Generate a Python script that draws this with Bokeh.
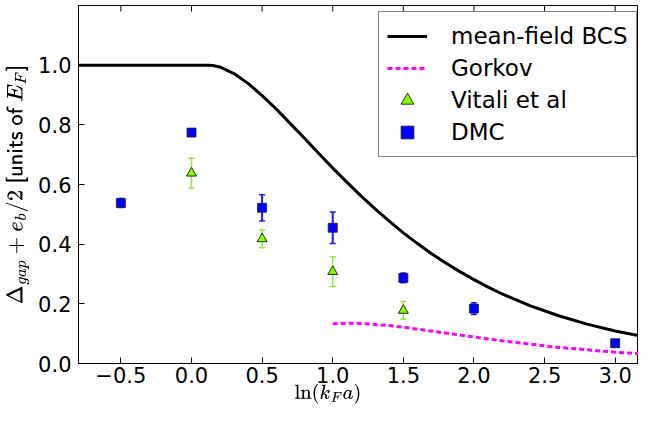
import math
from bokeh.plotting import figure
from bokeh.models import (ColumnDataSource, Whisker, TeeHead, FixedTicker,
                          Legend, LegendItem, TeX, Range1d, PrintfTickFormatter)
from bokeh.embed import file_html
from bokeh.resources import INLINE

# mean-field BCS curve
bcs_x = [-0.8, -0.5, 0.0, 0.12, 0.15, 0.2, 0.3, 0.4, 0.5, 0.6, 0.7, 0.8, 0.9, 1.0,
         1.1, 1.2, 1.3, 1.4, 1.5, 1.6, 1.7, 1.8, 1.9, 2.0, 2.1, 2.2, 2.4, 2.6, 2.8, 3.0, 3.3]
bcs_y = [1.0, 1.0, 1.0, 1.0, 0.999, 0.994, 0.972, 0.939, 0.898, 0.853, 0.804, 0.755, 0.705, 0.655,
         0.608, 0.562, 0.518, 0.477, 0.438, 0.402, 0.368, 0.337, 0.308, 0.281, 0.256, 0.233,
         0.193, 0.160, 0.132, 0.109, 0.081]

# Gorkov curve
gorkov_x = [1.0, 1.1, 1.15, 1.2, 1.3, 1.4, 1.5, 1.6, 1.8, 2.0, 2.2, 2.4, 2.5, 2.6, 2.8, 3.0, 3.1, 3.3]
gorkov_y = [0.133, 0.135, 0.135, 0.134, 0.131, 0.127, 0.122, 0.115, 0.102, 0.089, 0.076, 0.065,
            0.059, 0.054, 0.046, 0.038, 0.035, 0.029]

# Vitali et al
vitali_x = [0.0, 0.5, 1.0, 1.5]
vitali_y = [0.638, 0.418, 0.308, 0.178]
vitali_err = [0.05, 0.03, 0.05, 0.03]

# DMC
dmc_x = [-0.5, 0.0, 0.5, 1.0, 1.5, 2.0, 3.0]
dmc_y = [0.538, 0.774, 0.522, 0.455, 0.287, 0.184, 0.068]
dmc_err = [0.015, 0.01, 0.044, 0.053, 0.016, 0.02, 0.012]

x_ticks = [-0.5, 0.0, 0.5, 1.0, 1.5, 2.0, 2.5, 3.0]
y_ticks = [0.0, 0.2, 0.4, 0.6, 0.8, 1.0]
X_MIN, X_MAX = -0.8, 3.165
Y_MIN, Y_MAX = 0.0, 1.2

FONT = "DejaVu Sans"

p = figure(width=638, height=406, output_backend="svg", toolbar_location=None,
           x_range=Range1d(X_MIN, X_MAX), y_range=Range1d(Y_MIN, Y_MAX),
           min_border_left=78, min_border_right=0, min_border_top=5, min_border_bottom=40)
p.xgrid.visible = False
p.ygrid.visible = False
p.outline_line_color = "black"
p.outline_line_width = 1
p.background_fill_color = "white"
p.border_fill_color = "white"

for ax in (p.xaxis[0], p.yaxis[0]):
    ax.major_tick_in = 6
    ax.major_tick_out = 0
    ax.minor_tick_in = 0
    ax.minor_tick_out = 0
    ax.axis_line_color = "black"
    ax.major_tick_line_color = "black"
    ax.major_label_text_font = FONT
    ax.major_label_text_font_size = "21px"
    ax.major_label_text_color = "black"
    ax.axis_label_text_font_style = "normal"
    ax.axis_label_text_color = "black"

p.xaxis[0].ticker = FixedTicker(ticks=x_ticks)
p.xaxis[0].formatter = PrintfTickFormatter(format="%.1f")
p.xaxis[0].major_label_overrides = {-0.5: "\u22120.5"}
p.xaxis[0].major_label_standoff = 3
p.xaxis[0].axis_label = TeX(r"\ln(k_F a)\qquad\quad")
p.xaxis[0].axis_label_text_font_size = "17px"
p.xaxis[0].axis_label_standoff = -2

p.yaxis[0].ticker = FixedTicker(ticks=y_ticks)
p.yaxis[0].formatter = PrintfTickFormatter(format="%.1f")
p.yaxis[0].major_label_standoff = 7
p.yaxis[0].axis_label = TeX(r"\Delta_{gap}+e_b/2\;\textsf{[units of }E_F\textsf{]}")
p.yaxis[0].axis_label_text_font_size = "19px"
p.yaxis[0].axis_label_standoff = 6

# inward tick marks along the top edge (matplotlib style)
p.scatter(x_ticks, [Y_MAX] * len(x_ticks), marker="dash", angle=math.pi / 2, size=12,
          line_color="black", line_width=1)

r_bcs = p.line(bcs_x, bcs_y, line_color="black", line_width=3)
r_g = p.line(gorkov_x, gorkov_y, line_color="#ff00ff", line_width=3, line_dash="5 3")

v_src = ColumnDataSource(dict(x=vitali_x, y=vitali_y,
                              lo=[a - b for a, b in zip(vitali_y, vitali_err)],
                              hi=[a + b for a, b in zip(vitali_y, vitali_err)]))
d_src = ColumnDataSource(dict(x=dmc_x, y=dmc_y,
                              lo=[a - b for a, b in zip(dmc_y, dmc_err)],
                              hi=[a + b for a, b in zip(dmc_y, dmc_err)]))

vc = "#8cea3c"
wv = Whisker(base="x", upper="hi", lower="lo", source=v_src, line_color=vc, line_width=1.5,
             upper_head=TeeHead(size=6, line_color=vc, line_width=1.5),
             lower_head=TeeHead(size=6, line_color=vc, line_width=1.5), level="underlay")
dc = "#1a1aee"
wd = Whisker(base="x", upper="hi", lower="lo", source=d_src, line_color=dc, line_width=2,
             upper_head=TeeHead(size=6, line_color=dc, line_width=1.5),
             lower_head=TeeHead(size=6, line_color=dc, line_width=1.5), level="underlay")
p.add_layout(wv)
p.add_layout(wd)

r_v = p.scatter("x", "y", source=v_src, marker="triangle", size=10, fill_color="#7fff00",
                line_color="black", line_width=0.8)
r_d = p.scatter("x", "y", source=d_src, marker="square", size=9, fill_color="#0000ff",
                line_color="#222222", line_width=0.8)

legend = Legend(items=[LegendItem(label="mean-field BCS", renderers=[r_bcs]),
                       LegendItem(label="Gorkov", renderers=[r_g]),
                       LegendItem(label="Vitali et al", renderers=[r_v]),
                       LegendItem(label="DMC", renderers=[r_d])],
                location=(300, 206), margin=0, padding=8, spacing=0,
                glyph_width=40, glyph_height=32, label_height=32,
                label_standoff=24,
                label_text_font=FONT, label_text_font_size="23px", label_text_color="black",
                border_line_color="black", border_line_width=1, background_fill_alpha=1.0)
p.add_layout(legend, "center")

open("out.html", "w").write(file_html(p, INLINE))
